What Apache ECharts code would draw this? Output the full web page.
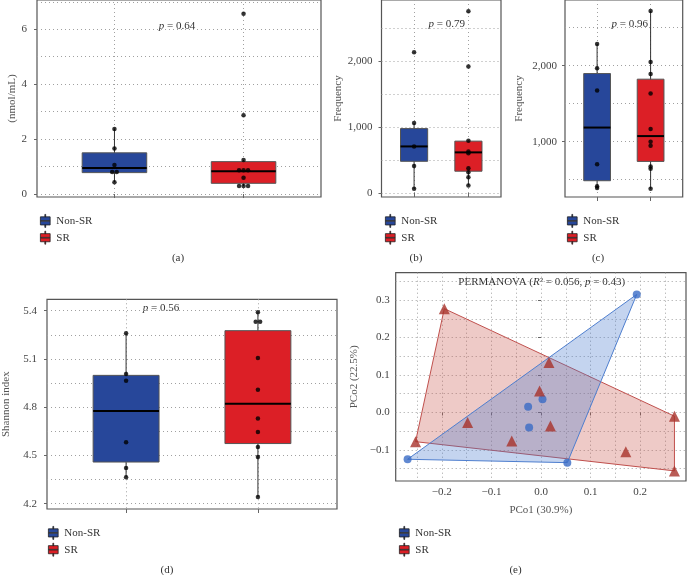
<!DOCTYPE html>
<html>
<head>
<meta charset="utf-8">
<script src="https://cdn.jsdelivr.net/npm/echarts@6/dist/echarts.min.js"></script>
<style>
  html, body { margin: 0; padding: 0; background: #fff; }
  #chart { width: 687px; height: 575px; }
</style>
</head>
<body>
<div id="chart"></div>
<script>
const groups = ['Non-SR', 'SR']

// (a) concentration, nmol/mL
const aPoints = [[2.37, 1.66, 1.06, 0.8, 0.8, 0.43], [6.56, 2.87, 1.24, 0.87, 0.87, 0.87, 0.59, 0.29, 0.29, 0.29]]
const aBox = [[0.43, 0.78, 0.95, 1.5, 2.37], [0.29, 0.39, 0.83, 1.18, 1.24]] // min, q1, median, q3, max
const aTicks = [0, 2, 4, 6]

// (b) frequency
const bPoints = [[2130, 1060, 705, 410, 65], [2750, 1915, 790, 630, 600, 375, 315, 240, 115]]
const bBox = [[65, 480, 705, 975, 1060], [115, 330, 615, 785, 790]]
const bTicks = [0, 1000, 2000]

// (c) frequency
const cPoints = [[2286, 1965, 1674, 703, 413, 391], [2720, 2047, 1891, 1635, 1167, 1000, 948, 674, 644, 383]]
const cBox = [[391, 487, 1186, 1896, 2286], [383, 741, 1074, 1822, 2720]]
const cTicks = [1000, 2000]

// (d) Shannon index
const dPoints = [[5.26, 5.006, 4.965, 4.582, 4.422, 4.364], [5.39, 5.332, 5.332, 5.106, 4.909, 4.729, 4.646, 4.553, 4.49, 4.241]]
const dBox = [[4.364, 4.459, 4.777, 4.998, 5.26], [4.241, 4.574, 4.822, 5.276, 5.39]]
const dTicks = [4.2, 4.5, 4.8, 5.1, 5.4]

// (e) PCoA
const nonSrPCo = [[0.193, 0.315], [-0.269, -0.125], [0.053, -0.134], [-0.026, 0.015], [0.003, 0.035], [-0.024, -0.04]]
const srPCo = [[-0.195, 0.277], [-0.253, -0.078], [-0.148, -0.027], [-0.059, -0.076], [0.016, 0.133], [-0.003, 0.057], [0.019, -0.036], [0.171, -0.105], [0.269, -0.01], [0.269, -0.156]]
const eTicks = [-0.2, -0.1, 0, 0.1, 0.2]
const eYTicks = [-0.1, 0, 0.1, 0.2, 0.3]

const pLabels = ['0.64', '0.79', '0.96', '0.56']

const font = "'Liberation Serif', 'DejaVu Serif', serif"
const boxColors = ['#27479a', '#dc1f26']
const dotted = { type: [1, 3], color: '#a0a0a0', width: 1 }
const W = 687

const thousands = (v) => v.toLocaleString('en-US')
const panels = [
  { points: aPoints, box: aBox, ticks: aTicks, left: 37, right: 366, top: -2, bottom: 378, min: -0.108, max: 7.065, step: 2, name: '(nmol/mL)', nameGap: 19, margin: 10, fmt: (v) => String(v) },
  { points: bPoints, box: bBox, ticks: bTicks, left: 381.5, right: 186, top: -2, bottom: 378, min: -60, max: 2920, step: 1000, name: 'Frequency', nameGap: 38, margin: 9, fmt: thousands },
  { points: cPoints, box: cBox, ticks: cTicks, left: 565, right: 4.3, top: -2, bottom: 378, min: 273, max: 2863, step: 1000, name: 'Frequency', nameGap: 40, margin: 8, fmt: thousands },
  { points: dPoints, box: dBox, ticks: dTicks, left: 44.7, right: 350, top: 299.3, bottom: 66, min: 4.167, max: 5.471, step: 0.3, name: 'Shannon index', nameGap: 35, margin: 10, fmt: (v) => v.toFixed(1) },
]

// identical values sit side by side, like a centred dot plot
function dotData(points, pxPerUnit) {
  const out = []
  points.forEach((vals, i) => {
    const count = {}
    const used = {}
    vals.forEach((v) => (count[v] = (count[v] || 0) + 1))
    vals.forEach((v) => {
      const k = (used[v] = (used[v] || 0) + 1)
      out.push([i + 1 + ((k - 1 - (count[v] - 1) / 2) * 4.5) / pxPerUnit, v])
    })
  })
  return out
}

function renderBox(params, api) {
  const x = api.value(0)
  const lo = api.coord([x, api.value(1)])
  const q1 = api.coord([x, api.value(2)])
  const md = api.coord([x, api.value(3)])
  const q3 = api.coord([x, api.value(4)])
  const hi = api.coord([x, api.value(5)])
  const w = api.size([0.5, 0])[0]
  return {
    type: 'group',
    children: [
      { type: 'line', shape: { x1: lo[0], y1: lo[1], x2: hi[0], y2: hi[1] }, style: { stroke: '#333', lineWidth: 1 } },
      { type: 'rect', shape: { x: q3[0] - w / 2, y: q3[1], width: w, height: q1[1] - q3[1] }, style: { fill: boxColors[api.value(6)], stroke: '#555', lineWidth: 1 } },
      { type: 'line', shape: { x1: md[0] - w / 2, y1: md[1], x2: md[0] + w / 2, y2: md[1] }, style: { stroke: '#000', lineWidth: 2 } },
    ],
  }
}

function hull(pts) {
  const p = pts.slice().sort((a, b) => a[0] - b[0] || a[1] - b[1])
  const cross = (o, a, b) => (a[0] - o[0]) * (b[1] - o[1]) - (a[1] - o[1]) * (b[0] - o[0])
  const lower = []
  const upper = []
  for (const q of p) {
    while (lower.length >= 2 && cross(lower[lower.length - 2], lower[lower.length - 1], q) <= 0) lower.pop()
    lower.push(q)
  }
  for (const q of p.slice().reverse()) {
    while (upper.length >= 2 && cross(upper[upper.length - 2], upper[upper.length - 1], q) <= 0) upper.pop()
    upper.push(q)
  }
  return lower.slice(0, -1).concat(upper.slice(0, -1))
}

const labelStyle = { fontFamily: font, fontSize: 11, color: '#444' }
const nameStyle = { fontFamily: font, fontSize: 11, color: '#555' }
const tickStyle = { color: '#666', width: 1 }

const grid = []
const xAxis = []
const yAxis = []
const series = []

panels.forEach((p, i) => {
  grid.push({ left: p.left, right: p.right, top: p.top, bottom: p.bottom, show: true, borderColor: '#555', borderWidth: 1.2, backgroundColor: 'transparent' })
  xAxis.push({
    type: 'value', gridIndex: i, min: 0.4, max: 2.6, minInterval: 1, maxInterval: 1,
    axisLine: { show: false },
    axisLabel: { show: false },
    axisTick: { show: true, customValues: [1, 2], length: 4, lineStyle: tickStyle },
    splitLine: { show: true, lineStyle: dotted },
  })
  yAxis.push({
    type: 'value', gridIndex: i, min: p.min, max: p.max, minInterval: p.step, maxInterval: p.step,
    axisLine: { show: false },
    axisTick: { show: true, customValues: p.ticks, length: 3, lineStyle: tickStyle },
    axisLabel: Object.assign({ customValues: p.ticks, formatter: p.fmt, margin: p.margin, showMinLabel: true, showMaxLabel: true }, labelStyle),
    splitLine: { show: true, lineStyle: dotted },
    minorTick: { show: false, splitNumber: 2 },
    minorSplitLine: { show: true, lineStyle: dotted },
    name: p.name, nameLocation: 'middle', nameGap: p.nameGap, nameTextStyle: nameStyle,
  })
  const pxPerUnit = (W - p.left - p.right) / 2.2
  series.push({
    type: 'custom', xAxisIndex: i, yAxisIndex: i, silent: true,
    renderItem: renderBox,
    encode: { x: 0, y: [1, 2, 3, 4, 5] },
    data: p.box.map((b, g) => [g + 1].concat(b, [g])),
  })
  series.push({
    type: 'scatter', xAxisIndex: i, yAxisIndex: i, silent: true, z: 5,
    symbolSize: 4.5, itemStyle: { color: '#000' },
    data: dotData(p.points, pxPerUnit),
  })
})

// (e) PCoA panel
grid.push({ left: 395.7, right: 1, top: 272.7, bottom: 94, show: true, borderColor: '#555', borderWidth: 1.2, backgroundColor: 'transparent' })
const signed = (v) => (v < 0 ? '\u2212' : '') + Math.abs(v).toFixed(1)
xAxis.push({
  type: 'value', gridIndex: 4, min: -0.293, max: 0.2923, minInterval: 0.1, maxInterval: 0.1,
  axisLine: { show: false },
  axisTick: { show: true, customValues: eTicks, length: 3, lineStyle: tickStyle },
  axisLabel: Object.assign({ customValues: eTicks, formatter: signed, margin: 6 }, labelStyle),
  splitLine: { show: true, lineStyle: dotted },
  minorTick: { show: false, splitNumber: 2 },
  minorSplitLine: { show: true, lineStyle: dotted },
  name: 'PCo1 (30.9%)', nameLocation: 'middle', nameGap: 24, nameTextStyle: nameStyle,
})
yAxis.push({
  type: 'value', gridIndex: 4, min: -0.183, max: 0.373, minInterval: 0.1, maxInterval: 0.1,
  axisLine: { show: false },
  axisTick: { show: true, customValues: eYTicks, length: 3, lineStyle: tickStyle },
  axisLabel: Object.assign({ customValues: eYTicks, formatter: signed, margin: 6 }, labelStyle),
  splitLine: { show: true, lineStyle: dotted },
  minorTick: { show: false, splitNumber: 2 },
  minorSplitLine: { show: true, lineStyle: dotted },
  name: 'PCo2 (22.5%)', nameLocation: 'middle', nameGap: 36, nameTextStyle: nameStyle,
})

function hullSeries(pts, fill, stroke) {
  const h = hull(pts)
  return {
    type: 'custom', xAxisIndex: 4, yAxisIndex: 4, silent: true, data: h,
    renderItem: (params, api) =>
      params.dataIndex ? null : { type: 'polygon', shape: { points: h.map((q) => api.coord(q)) }, style: { fill, stroke, lineWidth: 1 } },
  }
}
series.push(hullSeries(srPCo, 'rgba(200, 80, 70, 0.3)', '#c0504d'))
series.push(hullSeries(nonSrPCo, 'rgba(70, 120, 205, 0.32)', '#4f7fcf'))
series.push({ type: 'scatter', xAxisIndex: 4, yAxisIndex: 4, silent: true, z: 5, symbol: 'circle', symbolSize: 8, itemStyle: { color: '#3a6cc6' }, data: nonSrPCo })
series.push({ type: 'scatter', xAxisIndex: 4, yAxisIndex: 4, silent: true, z: 5, symbol: 'triangle', symbolSize: 11, itemStyle: { color: '#a8322a' }, data: srPCo })

// empty series only to feed the legends
groups.forEach((g, i) => series.push({ name: g, type: 'bar', xAxisIndex: 0, yAxisIndex: 0, data: [], itemStyle: { color: boxColors[i] } }))

const boxIcon = 'path://M5.5,0h1v3h-1z M0,3h12v10h-12z M5.5,13h1v3h-1z M0.6,7.6v0.8h10.8v-0.8z'
const legendData = groups.map((g, i) => ({ name: g, icon: boxIcon, itemStyle: { color: boxColors[i], borderColor: '#222', borderWidth: 0.8 } }))
const legendSpots = [[35, 209], [380, 209], [562, 209], [43, 521], [394, 521]]
const legend = legendSpots.map(([l, t]) => ({
  left: l, top: t, orient: 'vertical', itemWidth: 12, itemHeight: 13, itemGap: 3,
  selectedMode: false, data: legendData,
  textStyle: { fontFamily: font, fontSize: 11, color: '#333' },
}))

const pSpots = [[177, 26], [446.7, 24], [629.7, 24], [161, 308.5]]
const graphic = pSpots.map(([x, y], i) => ({
  type: 'text', x, y, silent: true,
  style: { text: '{i|p} = ' + pLabels[i], fontFamily: font, fontSize: 11, fill: '#333', align: 'center', verticalAlign: 'middle', rich: { i: { fontFamily: font, fontSize: 11, fontStyle: 'italic', fill: '#333' } } },
}))
graphic.push({
  type: 'text', x: 541.7, y: 282, silent: true,
  style: { text: 'PERMANOVA ({i|R}\u00b2 = 0.056, {i|p} = 0.43)', fontFamily: font, fontSize: 11, fill: '#333', align: 'center', verticalAlign: 'middle', rich: { i: { fontFamily: font, fontSize: 11, fontStyle: 'italic', fill: '#333' } } },
})
const captions = [['(a)', 178, 258], ['(b)', 416, 258], ['(c)', 598, 258], ['(d)', 167, 570], ['(e)', 515.5, 570]]
captions.forEach(([t, x, y]) =>
  graphic.push({ type: 'text', x, y, silent: true, style: { text: t, fontFamily: font, fontSize: 11, fill: '#333', align: 'center', verticalAlign: 'middle' } })
)

const chart = echarts.init(document.getElementById('chart'), null, { renderer: 'canvas' })
chart.setOption({
  animation: false,
  backgroundColor: '#fff',
  grid, xAxis, yAxis, series, legend, graphic,
})
</script>
</body>
</html>
